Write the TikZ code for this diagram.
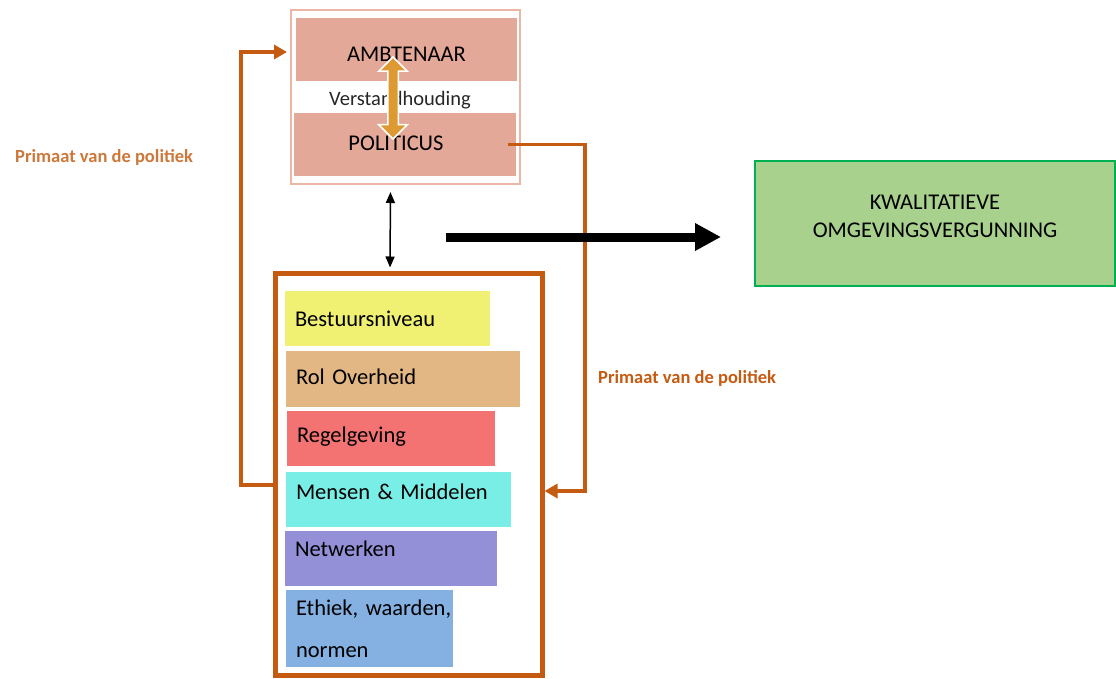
\documentclass[tikz,border=0pt]{standalone}
\usepackage{fontspec}
\setmainfont{Carlito}
\usetikzlibrary{arrows.meta,shapes.arrows}
\definecolor{color1}{RGB}{240,240,115}
\definecolor{color2}{RGB}{226,183,132}
\definecolor{color3}{RGB}{243,114,114}
\definecolor{color4}{RGB}{121,238,230}
\definecolor{color5}{RGB}{148,144,216}
\definecolor{color6}{RGB}{132,176,226}
\definecolor{zalm}{RGB}{227,168,152}
\definecolor{zalmrand}{RGB}{236,182,165}
\definecolor{oranje}{RGB}{197,90,17}
\definecolor{oranjelicht}{RGB}{204,120,58}
\definecolor{goud}{RGB}{222,154,50}
\definecolor{groen}{RGB}{169,209,142}
\definecolor{groenrand}{RGB}{0,176,80}
\newcommand\tekst{\fontsize{22.5}{28}\selectfont}
\newcommand\primaat{\fontsize{18.5}{22}\selectfont\bfseries}

\begin{document}
\begin{tikzpicture}[x=1pt,y=-1pt]
  \tikzset{blok/.style  = {anchor=north west, inner sep=0pt, outer sep=0pt, font=\tekst},
           laag/.style  = {blok, inner xsep=10pt, text width=#1, align=left},
           lijn/.style  = {draw=oranje, line width=3.5pt, -{Triangle[length=13pt,width=14pt]}},
           label/.style = {inner sep=0pt, font=\primaat}}
  \useasboundingbox (0,0) rectangle (1116,679);

% bovenste blok
  \node[blok, draw=zalmrand, line width=2pt, minimum width=229, minimum height=174] (topbox) at (291,10) {};
  \node[blok, fill=zalm, minimum width=221, minimum height=63,
        text height=24.5pt, text depth=0pt] (ambtenaar) at (296,18) {AMBTENAAR};
  \node[blok, fill=zalm, minimum width=222, minimum height=63] (politicus) at (294,113) {};
  \node[font=\tekst, inner sep=0pt] at (396,143) {POLITICUS};
  \node[inner sep=0pt, font=\fontsize{20.5}{24}\selectfont, text=black!85] (verstand) at (400,100) {Verstandhouding};

% onderste blok
  \node[blok, draw=oranje, line width=5pt, minimum width=267, minimum height=402] (kader) at (275.5,273.5) {};
  \node[laag=185pt, fill=color1, minimum height=55, text depth=-2pt] (bestuur) at (285,291) {Bestuursniveau};
  \node[laag=214pt, fill=color2, minimum height=56, text depth=5pt] (rol) at (286,351) {Rol Overheid};
  \node[laag=188pt, fill=color3, minimum height=55, text depth=8pt] (regel) at (287,411) {Regelgeving};
  \node[laag=205pt, fill=color4, minimum height=55, text depth=16pt] (mensen) at (286,472) {Mensen \& Middelen};
  \node[laag=192pt, fill=color5, minimum height=55, text depth=20pt] (netwerk) at (285,531) {Netwerken};
  \node[laag=147pt, fill=color6, minimum height=77] (ethiek) at (286,590) {\mbox{Ethiek, waarden,}\\[14pt]normen};

% resultaat
  \node[blok, fill=groen, draw=groenrand, line width=2pt, minimum width=360, minimum height=125,
        align=center, text depth=14pt] (groen) at (755,161) {KWALITATIEVE\\OMGEVINGSVERGUNNING};

% teksten
  \node[label, text=oranjelicht, anchor=west] (primaat1) at (15,157) {Primaat van de politiek};
  \node[label, text=oranje, anchor=west] (primaat2) at (598,378) {Primaat van de politiek};

% verbindingen
  \coordinate (knikL) at (241,485);
  \coordinate (knikR) at (585,491);
  \coordinate (pijlstart) at (446,237);
  \draw[lijn, shorten >=4pt] ([yshift=-10.5pt]kader.west) -- (knikL) |- ([yshift=-2.5pt]topbox.west |- ambtenaar.east);
  \draw[lijn, shorten >=2pt] ([xshift=-8pt]politicus.east) -| (knikR) -- ([yshift=-16.5pt]kader.east);
  \draw[line width=1.5pt, {Triangle[length=11pt,width=9pt]}-{Triangle[length=11pt,width=9pt]},
        shorten <=8pt, shorten >=6pt] ([xshift=-15pt]topbox.south) -- ([xshift=-19pt]kader.north);
  \draw[line width=9pt, -{Triangle[length=26pt,width=26pt]}, shorten >=34pt] (pijlstart) -- (pijlstart -| groen.west);

% verstandhouding pijl
  \node[double arrow, rotate=90, fill=goud, draw=white, line width=1.5pt, inner xsep=0pt, inner ysep=4.5pt,
        minimum height=82pt, double arrow head extend=9pt] (wissel) at (393,98) {};
\end{tikzpicture}
\end{document}
